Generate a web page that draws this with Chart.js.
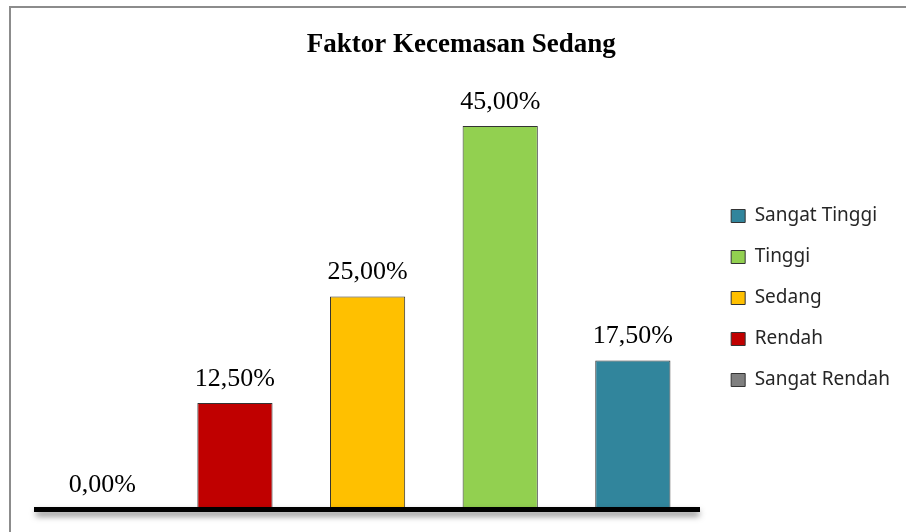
<!DOCTYPE html>
<html>
<head>
<meta charset="utf-8">
<script src="https://cdn.jsdelivr.net/npm/chart.js@4/dist/chart.umd.min.js"></script>
<style>
  html, body { margin: 0; padding: 0; background: #fff; }
  #wrap { width: 906px; height: 532px; position: relative; }
</style>
</head>
<body>
<div id="wrap"><canvas id="faktorChart"></canvas></div>
<script>
// kategori dan nilai (persen)
const kategori = ['Sangat Rendah', 'Rendah', 'Sedang', 'Tinggi', 'Sangat Tinggi'];
const persen = [0, 12.5, 25, 45, 17.5];
const warna = ['#7f7f7f', '#c00000', '#ffc000', '#92d050', '#31859c'];

const serif = '"Liberation Serif", "DejaVu Serif", serif';
const sans = '"Noto Sans", "Open Sans", sans-serif';

// bingkai abu-abu di kiri dan atas
const bingkai = {
    id: 'bingkai',
    beforeDraw(chart) {
        const ctx = chart.ctx;
        ctx.save();
        ctx.fillStyle = '#8c8c8c';
        ctx.fillRect(9, 6, chart.width - 9, 2);
        ctx.fillRect(9, 6, 2, chart.height - 6);
        ctx.restore();
    }
};

// garis sumbu dengan bayangan + label nilai di atas batang
const labelNilai = {
    id: 'labelNilai',
    afterDatasetsDraw(chart) {
        const ctx = chart.ctx;
        const area = chart.chartArea;
        ctx.save();
        ctx.shadowColor = 'rgba(0,0,0,0.5)';
        ctx.shadowBlur = 6;
        ctx.shadowOffsetY = 4;
        ctx.fillStyle = '#000';
        ctx.fillRect(area.left, area.bottom - 2.5, area.right - area.left, 5);
        ctx.restore();

        ctx.save();
        ctx.font = '26px ' + serif;
        ctx.fillStyle = '#000';
        ctx.textAlign = 'center';
        ctx.textBaseline = 'bottom';
        chart.getDatasetMeta(0).data.forEach((bar, i) => {
            const teks = persen[i].toFixed(2).replace('.', ',') + '%';
            ctx.fillText(teks, bar.x, bar.y - 11);
        });
        ctx.restore();
    }
};

new Chart(document.getElementById('faktorChart'), {
    type: 'bar',
    data: {
        labels: kategori,
        datasets: [{
            data: persen,
            backgroundColor: warna,
            borderColor: '#333',
            borderWidth: 1,
            barPercentage: 0.567,
            categoryPercentage: 1
        }]
    },
    options: {
        responsive: true,
        maintainAspectRatio: false,
        animation: false,
        layout: { padding: { left: 36, top: 20, right: 6, bottom: 0 } },
        scales: {
            x: {
                grid: { display: false },
                ticks: { display: false },
                border: { display: true, color: '#000', width: 5 },
                afterFit(scale) { scale.height = 22.5; }
            },
            y: {
                position: 'right',
                min: 0,
                max: 50,
                grid: { display: false },
                ticks: { display: false },
                border: { display: false },
                afterFit(scale) { scale.width = 10; }
            }
        },
        plugins: {
            title: {
                display: true,
                // dua spasi di akhir menggeser judul sedikit ke kiri
                text: 'Faktor Kecemasan Sedang\u00a0\u00a0',
                color: '#000',
                font: { family: serif, size: 27, weight: 'bold' },
                padding: { top: 8.8, bottom: 22.3 }
            },
            legend: {
                position: 'right',
                title: {
                    display: true,
                    text: '',
                    font: { size: 10, lineHeight: 1.2 },
                    padding: { top: 32, bottom: 0 }
                },
                labels: {
                    color: '#262626',
                    font: { family: sans, size: 19 },
                    boxWidth: 14,
                    boxHeight: 13,
                    padding: 22,
                    generateLabels(chart) {
                        return kategori.map((k, i) => ({
                            text: k,
                            fillStyle: warna[i],
                            strokeStyle: '#333',
                            fontColor: '#262626',
                            lineWidth: 1,
                            index: i
                        })).reverse();
                    }
                }
            },
            tooltip: { enabled: false }
        }
    },
    plugins: [bingkai, labelNilai]
});
</script>
</body>
</html>
